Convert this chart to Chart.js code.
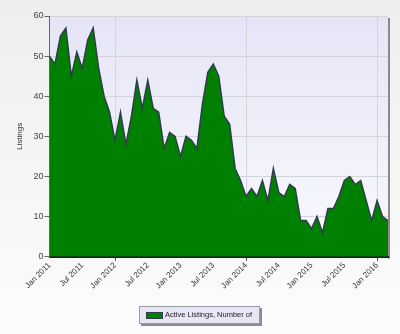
<!DOCTYPE html>
<html>
<head>
<meta charset="utf-8">
<title>Active Listings</title>
<script src="https://cdn.jsdelivr.net/npm/chart.js@4/dist/chart.umd.min.js"></script>
<style>
  html, body { margin: 0; padding: 0; }
  body {
    width: 400px; height: 334px; position: relative; overflow: hidden;
    background: linear-gradient(#eeeeee, #fcfcfc);
    font-family: "Liberation Sans", Arial, sans-serif;
  }
  #wrap { position: absolute; left: 0; top: 0; width: 400px; height: 334px; }
  #legend {
    position: absolute; left: 139px; top: 306px; width: 119px; height: 16px;
    background: #e6e6f6; border: 1px solid #9a9aa6;
    box-shadow: 2px 2px 0 #8c8c8c;
    font-size: 7.5px; color: #222; line-height: 16px; white-space: nowrap;
  }
  #legend .sw {
    position: absolute; left: 6px; top: 5px; width: 15px; height: 5px;
    background: #008000; border: 1px solid #2f3d4a;
  }
  #legend .tx { position: absolute; left: 25px; top: 0; }
</style>
</head>
<body>
<div id="wrap"><canvas id="chart" width="400" height="334"></canvas></div>
<div id="legend"><span class="sw"></span><span class="tx">Active Listings, Number of</span></div>
<script>
// Monthly active listings, Jan 2011 through Mar 2016
const seriesName = 'Active Listings, Number of';
const listings = [
  50, 48, 55, 57, 45, 51, 47, 54, 57, 47, 40, 36,   // 2011
  29, 36, 28, 35, 44, 37, 44, 37, 36, 27, 31, 30,   // 2012
  25, 30, 29, 27, 38, 46, 48, 45, 35, 33, 22, 19,   // 2013
  15, 17, 15, 19, 14, 22, 16, 15, 18, 17, 9, 9,     // 2014
  7, 10, 6, 12, 12, 15, 19, 20, 18, 19, 14, 9,      // 2015
  14, 10, 9                                         // 2016
];
// Labels shown every six months along the bottom axis
const xTickLabels = [
  'Jan 2011', 'Jul 2011', 'Jan 2012', 'Jul 2012', 'Jan 2013', 'Jul 2013',
  'Jan 2014', 'Jul 2014', 'Jan 2015', 'Jul 2015', 'Jan 2016'
];
const yTicks = [0, 10, 20, 30, 40, 50, 60];

const points = listings.map((v, i) => ({ x: i, y: v }));

// Lavender plot background and a soft shadow on the right edge
const plotBackground = {
  id: 'plotBackground',
  beforeDraw(chart) {
    const { ctx, chartArea: a } = chart;
    ctx.save();
    ctx.fillStyle = '#8a8a8a';
    ctx.fillRect(a.right, a.top + 2, 2, a.bottom - a.top);
    const g = ctx.createLinearGradient(0, a.top, 0, a.bottom);
    g.addColorStop(0, '#e5e5f7');
    g.addColorStop(1, '#f9f9fd');
    ctx.fillStyle = g;
    ctx.fillRect(a.left, a.top, a.right - a.left, a.bottom - a.top);
    ctx.strokeStyle = '#d6d6dc';
    ctx.lineWidth = 1;
    ctx.beginPath();
    ctx.moveTo(a.left, a.top + 0.5);
    ctx.lineTo(a.right, a.top + 0.5);
    ctx.stroke();
    ctx.restore();
  }
};

const majorTick = v => v % 24 === 12;

new Chart(document.getElementById('chart'), {
  type: 'line',
  data: {
    datasets: [{
      label: seriesName,
      data: points,
      fill: 'origin',
      backgroundColor: '#008000',
      borderColor: '#2f3d4a',
      borderWidth: 1.5,
      pointRadius: 0,
      tension: 0
    }]
  },
  options: {
    responsive: false,
    animation: false,
    layout: { padding: { left: 15, top: 16, right: 12, bottom: 0 } },
    plugins: { legend: { display: false }, tooltip: { enabled: false } },
    scales: {
      x: {
        type: 'linear',
        min: 0,
        max: listings.length - 1,
        afterFit(scale) { scale.height = 77.3; },
        ticks: {
          stepSize: 6,
          includeBounds: false,
          autoSkip: false,
          maxRotation: 45,
          minRotation: 45,
          padding: 0,
          color: '#333',
          font: { family: '"Liberation Sans", Arial, sans-serif', size: 8 },
          callback: v => (v % 6 === 0 ? xTickLabels[v / 6] : '')
        },
        grid: {
          color: c => (c.tick && majorTick(c.tick.value) ? '#d4d4dc' : 'rgba(0,0,0,0)'),
          tickColor: c => (c.tick && majorTick(c.tick.value) ? '#444' : 'rgba(0,0,0,0)'),
          tickLength: 4
        },
        border: { color: '#241a2a', width: 2 }
      },
      y: {
        min: 0,
        max: 60,
        afterFit(scale) { scale.width = 34.5; },
        afterBuildTicks(scale) { scale.ticks = yTicks.map(v => ({ value: v })); },
        ticks: {
          padding: 1,
          color: '#444',
          font: { family: '"Liberation Sans", Arial, sans-serif', size: 9 }
        },
        grid: { color: '#d4d4dc', tickColor: '#666', tickLength: 5 },
        border: { color: '#666', width: 1 },
        title: {
          display: true,
          text: 'Listings',
          color: '#333',
          padding: 0,
          font: { family: '"Liberation Sans", Arial, sans-serif', size: 8 }
        }
      }
    }
  },
  plugins: [plotBackground]
});
</script>
</body>
</html>
